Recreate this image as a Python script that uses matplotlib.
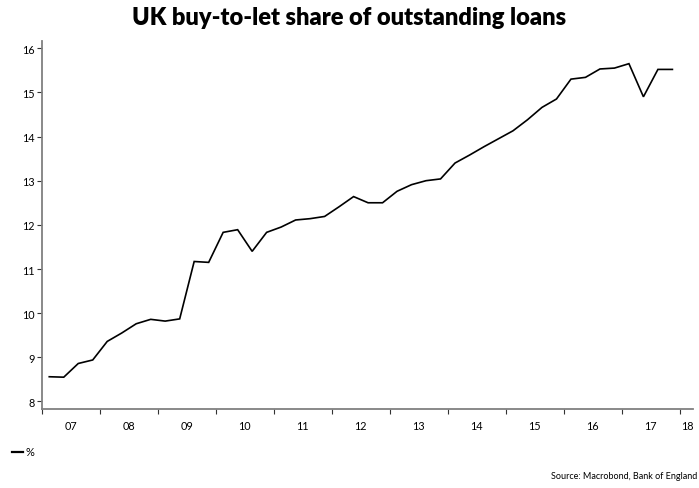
import numpy as np
import matplotlib
matplotlib.use('Agg')
import matplotlib.pyplot as plt
from matplotlib.lines import Line2D

plt.rcParams['font.family'] = ['Lato', 'DejaVu Sans']

# quarterly share of outstanding loans, %, 2007Q1 .. 2017Q4
share = [8.56, 8.55, 8.86, 8.94, 9.36, 9.55, 9.76, 9.86, 9.82, 9.87,
         11.17, 11.15, 11.83, 11.89, 11.40, 11.83, 11.95, 12.11, 12.14, 12.19,
         12.41, 12.64, 12.50, 12.50, 12.76, 12.91, 13.00, 13.04, 13.40, 13.58,
         13.77, 13.95, 14.13, 14.38, 14.66, 14.85, 15.30, 15.34, 15.53, 15.55,
         15.65, 14.90, 15.52, 15.52]
first_year = 2007
year_labels = ['07', '08', '09', '10', '11', '12', '13', '14', '15', '16', '17', '18']
y_ticks = [8, 9, 10, 11, 12, 13, 14, 15, 16]

t = first_year + 0.125 + 0.25 * np.arange(len(share))

fig = plt.figure(figsize=(6.99, 4.89), dpi=100)
ax = fig.add_axes([0.0601, 0.1616, 0.9313, 0.7531])
ax.plot(t, share, color='black', lw=1.2, solid_joinstyle='miter')

ax.set_xlim(2007, 2018.23)
ax.set_ylim(7.83, 16.17)

for s in ['top', 'right']:
    ax.spines[s].set_visible(False)
for s in ['left', 'bottom']:
    ax.spines[s].set_color('#808080')
    ax.spines[s].set_linewidth(1.3)

ax.set_yticks(y_ticks)
ax.set_yticklabels([str(v) for v in y_ticks])
ax.tick_params(axis='y', length=3.5, width=0.8, color='#333333', pad=2,
               labelsize=7.8)

# year boundaries get the ticks, labels sit mid-year
# (the last year only has a stub, so its label hugs the tick)
years = np.arange(2007, 2019)
ax.set_xticks(years)
ax.set_xticklabels([])
ax.tick_params(axis='x', which='major', length=3.5, width=0.8,
               color='#333333', direction='out')
label_pos = list(np.arange(2007.5, 2018)) + [2018.14]
ax.set_xticks(label_pos, minor=True)
ax.set_xticklabels(year_labels, minor=True)
ax.tick_params(axis='x', which='minor', length=0, pad=8, labelsize=7.8)

fig.text(0.5, 0.963, 'UK buy-to-let share of outstanding loans',
         ha='center', va='center', fontsize=17, fontweight='heavy')

fig.add_artist(Line2D([12 / 699, 23 / 699], [1 - 453 / 489, 1 - 453 / 489],
                      color='black', lw=1.6))
fig.text(26 / 699, 1 - 453 / 489, '%', ha='left', va='center', fontsize=8)

fig.text(0.997, 1 - 477 / 489, 'Source: Macrobond, Bank of England',
         ha='right', va='center', fontsize=6.5)

fig.savefig('out.png', dpi=100)
